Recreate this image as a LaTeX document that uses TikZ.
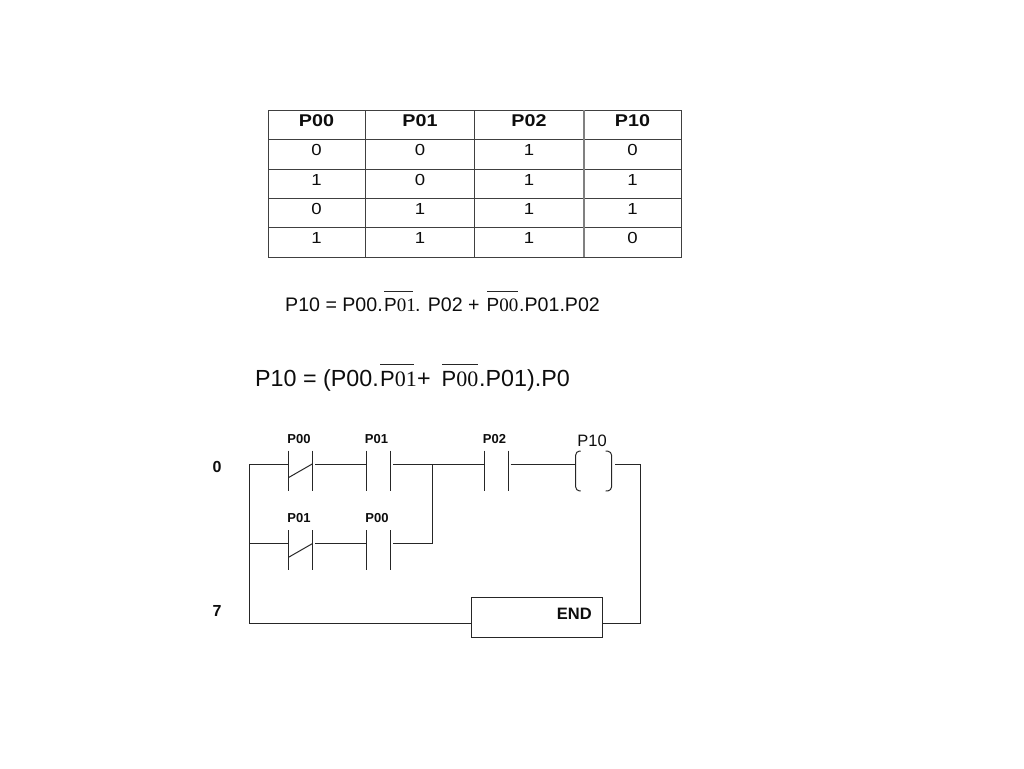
\documentclass[tikz,border=0pt]{standalone}
\usepackage{graphicx}
\usepackage{fontspec}
\setmainfont{Liberation Sans}
\newfontfamily\serifdig{Liberation Serif}
\newcommand{\widetxt}[1]{\scalebox{1.16}[1]{#1}}
\newcommand{\fs}[1]{\fontsize{#1}{#1}\selectfont}
\newcommand{\barword}[2]{\fs{#1}P{\serifdig #2}}
\definecolor{wire}{gray}{0.15}
\definecolor{ink}{gray}{0.05}
\tikzset{
  x=1pt,y=-1pt,
  wireline/.style={draw=wire,line width=1pt},
  gridline/.style={draw=black!75,line width=1pt},
  gridlight/.style={draw=black!50,line width=1.5pt},
  headtxt/.style={text=ink,inner sep=0pt,anchor=base,font=\fs{17}\bfseries},
  celltxt/.style={text=ink,inner sep=0pt,anchor=base,font=\fs{16}},
  eqone/.style={text=ink,inner sep=0pt,anchor=base west,font=\fs{19.6}},
  eqtwo/.style={text=ink,inner sep=0pt,anchor=base west,font=\fs{23.3}},
  contacttxt/.style={text=ink,inner sep=0pt,anchor=base,font=\fs{13}\bfseries},
  stepnum/.style={text=ink,inner sep=0pt,anchor=base,font=\fs{16}\bfseries},
  endbox/.style={draw=wire,line width=1pt,fill=white,minimum width=130.5pt,minimum height=39.7pt,inner sep=0pt,anchor=north west},
}
\begin{document}
\begin{tikzpicture}
\useasboundingbox (0,0) rectangle (1024,768);
% ---- truth table grid
\draw[gridline] (268,110) rectangle (681,257);
\foreach \yy in {139.5,169,198,227.5}{\draw[gridline] (268,\yy) -- (681,\yy);}
\foreach \xx in {365.5,474.5}{\draw[gridline] (\xx,110) -- (\xx,257);}
\draw[gridlight] (584,110) -- (584,257);
% ---- truth table text
\foreach \xx/\tt/\nm in {316.5/P00/a,420/P01/b,529/P02/c,632.5/P10/d}{
  \node[headtxt] (head\nm) at (\xx,126) {\widetxt{\tt}};}
\foreach \yy/\aa/\bb/\cc/\dd/\rr in {155.5/0/0/1/0/1,185/1/0/1/1/2,214/0/1/1/1/3,243.5/1/1/1/0/4}{
  \node[celltxt] (cella\rr) at (316.5,\yy) {\widetxt{\aa}};
  \node[celltxt] (cellb\rr) at (420,\yy) {\widetxt{\bb}};
  \node[celltxt] (cellc\rr) at (529,\yy) {\widetxt{\cc}};
  \node[celltxt] (celld\rr) at (632.5,\yy) {\widetxt{\dd}};
}
% ---- equation 1
\node[eqone] (e1a) at (285,311) {P10 = P00.};
\node[eqone] (e1b) at (384,311) {\barword{19}{01}};
\node[eqone] (e1c) at (415,311) {. P02 +};
\node[eqone] (e1d) at (486.5,311) {\barword{19}{00}};
\node[eqone] (e1e) at (519,311) {.P01.P02};
\draw[wire,line width=1pt] (384,291) -- (413,291);
\draw[wire,line width=1pt] (487,291) -- (518,291);
% ---- equation 2
\node[eqtwo] (e2a) at (255,386) {P10 = (P00.};
\node[eqtwo] (e2b) at (380,386) {\barword{22}{01}};
\node[eqtwo] (e2c) at (417,386) {+};
\node[eqtwo] (e2d) at (441.5,386) {\barword{22}{00}};
\node[eqtwo] (e2e) at (479,386) {.P01).P0};
\draw[wire,line width=1pt] (380,364.7) -- (414,364.7);
\draw[wire,line width=1pt] (442,364.7) -- (478,364.7);
% ---- ladder coordinates
\coordinate (railtop) at (249.5,464);
\coordinate (railmid) at (249.5,543.7);
\coordinate (railbot) at (249.5,623.7);
\coordinate (aL) at (288.7,464);   \coordinate (aR) at (315,464);
\coordinate (bL) at (366.8,464);   \coordinate (bR) at (393,464);
\coordinate (cL) at (288.7,543.7);   \coordinate (cR) at (315,543.7);
\coordinate (dL) at (366.8,543.7);   \coordinate (dR) at (393,543.7);
\coordinate (jTop) at (432.4,464); \coordinate (jBot) at (432.4,543.7);
\coordinate (eL) at (484.2,464); \coordinate (eR) at (510.5,464);
\coordinate (coilL) at (575.7,464); \coordinate (coilR) at (615,464);
\coordinate (cornerTop) at (640.5,464);
\coordinate (cornerBot) at (640.5,623.7);
% ---- END box
\node[endbox] (endb) at (471.2,597.3) {};
\node[inner sep=0pt,anchor=base east,text=ink,font=\fs{16.5}\bfseries] (endt) at (592,619) {END};
% ---- wires
\draw[wireline] (railtop) -- (railbot);
\draw[wireline] (railtop) -- (aL);
\draw[wireline] (aR) -- (bL);
\draw[wireline] (bR) -- (eL);
\draw[wireline] (eR) -- (coilL);
\draw[wireline] (coilR) -- (cornerTop) -- (cornerBot);
\draw[wireline] (railmid) -- (cL);
\draw[wireline] (cR) -- (dL);
\draw[wireline] (dR) -- (jBot) -- (jTop);
\draw[wireline] (railbot) -- (endb.west |- railbot);
\draw[wireline] (endb.east |- cornerBot) -- (cornerBot);
% ---- contacts
\foreach \yy in {464,543.7}{
  \draw[wireline] (288.7,\yy-13.5) -- (288.7,\yy+26.5);
  \draw[wireline] (312.2,\yy-13.5) -- (312.2,\yy+26.5);
  \draw[wireline] (288.7,\yy+13.5) -- (312.2,\yy);
  \draw[wireline] (366.8,\yy-13.5) -- (366.8,\yy+26.5);
  \draw[wireline] (390.5,\yy-13.5) -- (390.5,\yy+26.5);
}
\draw[wireline] (484.2,450.5) -- (484.2,490.5);
\draw[wireline] (508,450.5) -- (508,490.5);
% ---- coil
\draw[wireline,rounded corners=3.5pt] (580.7,451) -- (575.7,451.5) -- (575.7,490.5) -- (580.7,491);
\draw[wireline,rounded corners=3.5pt] (605.7,451) -- (611.5,451.5) -- (611.5,490.5) -- (605.7,491);
% ---- ladder labels
\node[contacttxt] (lp00a) at (299,443) {P00};
\node[contacttxt] (lp01a) at (376.5,443) {P01};
\node[contacttxt] (lp01b) at (299,522.5) {P01};
\node[contacttxt] (lp00b) at (377,522.5) {P00};
\node[contacttxt] (lp02) at (494.5,443) {P02};
\node[inner sep=0pt,anchor=base,text=ink,font=\fs{16.5}] (lp10) at (592,446.5) {P10};
\node[stepnum] (n0) at (217,472.5) {0};
\node[stepnum] (n7) at (217,616) {7};
\end{tikzpicture}
\end{document}
